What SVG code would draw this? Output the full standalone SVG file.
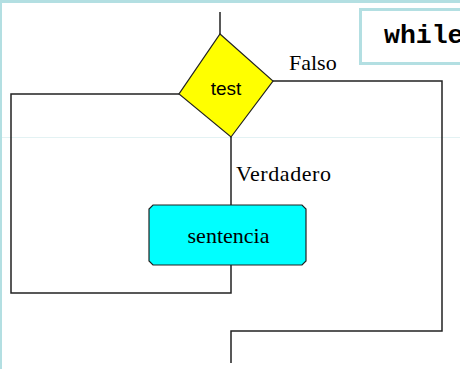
<svg xmlns="http://www.w3.org/2000/svg" width="460" height="369" viewBox="0 0 460 369">
<style>
.ln{fill:none;stroke:#222;stroke-width:1.5}
.serif{font-family:"Liberation Serif",serif;font-size:22px;fill:#000}
</style>
<rect x="0" y="0" width="460" height="369" fill="#fff"/>
<rect x="0" y="0" width="460" height="3" fill="#b3dfe2"/>
<rect x="0" y="0" width="2" height="369" fill="#b3dfe2"/>
<line x1="2" y1="137.5" x2="460" y2="137.5" stroke="#e3f2f3" stroke-width="1"/>
<g id="while-label">
<rect x="360.5" y="9.5" width="110" height="54" fill="#fff" stroke="#b3dfe2" stroke-width="3"/>
<text x="384" y="43" font-family="'Liberation Mono',monospace" font-weight="bold" font-size="26.5" fill="#000">while</text>
</g>
<g id="connectors">
<polyline class="ln" points="220,12 220,34"/>
<polyline class="ln" points="273,81 442,81 442,331 231,331 231,363"/>
<polyline class="ln" points="179,94 11,94 11,293 231,293 231,265"/>
<polyline class="ln" points="231,137 231,205"/>
</g>
<g id="test">
<polygon points="220,34 273,81 231,137 179,94" fill="#ffff00" stroke="#222" stroke-width="1.2"/>
<text x="226" y="95" text-anchor="middle" font-family="'Liberation Sans',sans-serif" font-size="19" fill="#000">test</text>
</g>
<g id="falso-label"><text class="serif" x="289" y="70">Falso</text></g>
<g id="verdadero-label"><text class="serif" x="236" y="181" textLength="95">Verdadero</text></g>
<g id="sentencia">
<polygon points="153,205 302,205 306,209 306,261 302,265 153,265 149,261 149,209" fill="#00ffff" stroke="#222" stroke-width="1.2"/>
<text class="serif" x="228.5" y="243" text-anchor="middle">sentencia</text>
</g>
</svg>
